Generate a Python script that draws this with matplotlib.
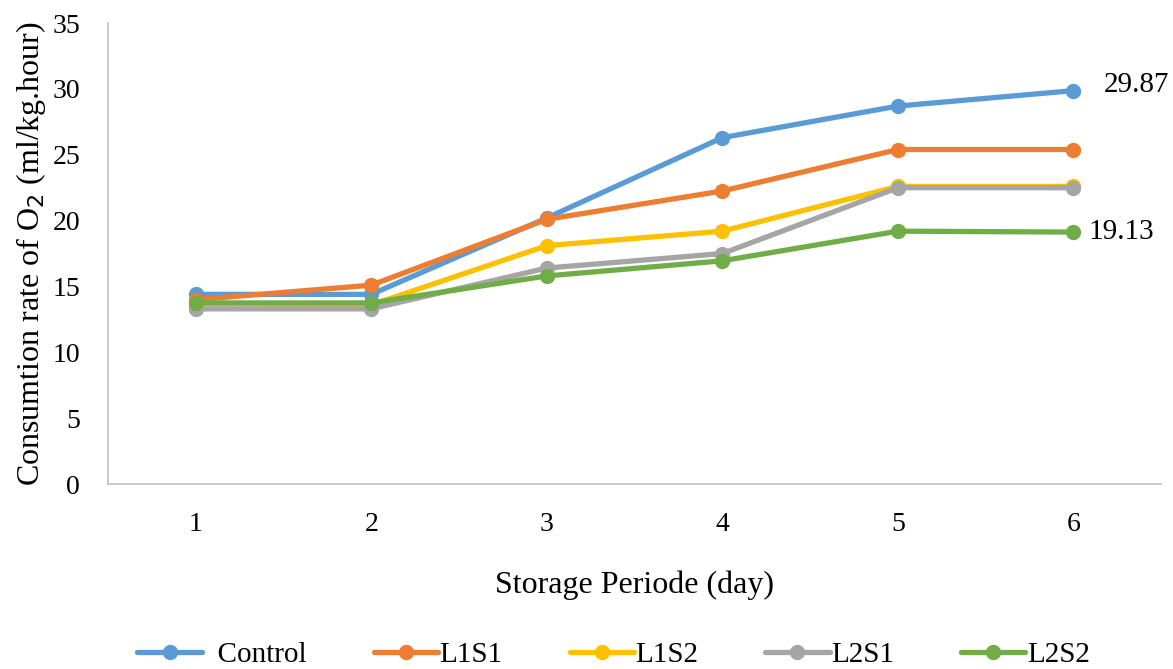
import numpy as np
from matplotlib import pyplot as plt

plt.rcParams['font.family'] = ['Liberation Serif', 'DejaVu Serif']

# data
days = [1, 2, 3, 4, 5, 6]
control = [14.4, 14.4, 20.2, 26.3, 28.7, 29.87]
l1s1 = [14.0, 15.1, 20.1, 22.25, 25.4, 25.4]
l1s2 = [13.7, 13.6, 18.1, 19.2, 22.6, 22.6]
l2s1 = [13.3, 13.3, 16.4, 17.5, 22.5, 22.5]
l2s2 = [13.75, 13.75, 15.8, 16.95, 19.2, 19.13]

series = [('Control', control, '#5B9BD5'),
          ('L1S1', l1s1, '#ED7D31'),
          ('L1S2', l1s2, '#FFC000'),
          ('L2S1', l2s1, '#A5A5A5'),
          ('L2S2', l2s2, '#70AD47')]

fig = plt.figure(figsize=(11.73, 6.69), dpi=100)
ax = fig.add_axes([0.092, 0.2765, 0.898, 0.689])

for name, vals, c in series:
    ax.plot(days, vals, color=c, lw=3.8, marker='o', ms=10, label=name,
            solid_capstyle='round')

ax.annotate('29.87', (6, control[-1]), xytext=(22, 4), textcoords='offset points',
            fontsize=21, va='center', ha='left')
ax.annotate('19.13', (6, l2s2[-1]), xytext=(11, 0), textcoords='offset points',
            fontsize=21, va='center', ha='left')

ax.set_xlim(0.5, 6.5)
ax.set_ylim(0, 35)
ax.set_yticks(np.arange(0, 36, 5))
ax.set_xticks(days)
ax.tick_params(length=0, labelsize=20)
ax.tick_params(axis='y', pad=20)
ax.tick_params(axis='x', pad=20)
for s in ['top', 'right']:
    ax.spines[s].set_visible(False)
for s in ['left', 'bottom']:
    ax.spines[s].set_color('#BFBFBF')
    ax.spines[s].set_linewidth(1.2)

ax.set_ylabel('Consumtion rate of O$_2$ (ml/kg.hour)', fontsize=23, labelpad=3)
ax.set_xlabel('Storage Periode (day)', fontsize=23, labelpad=24)

leg = ax.legend(loc='center', bbox_to_anchor=(0.48, -0.37), ncol=5, frameon=False,
                fontsize=21, handlelength=2.2, columnspacing=2.3, handletextpad=0.05)
leg.get_texts()[0].set_text('  Control')

fig.savefig('out.png', dpi=100)
